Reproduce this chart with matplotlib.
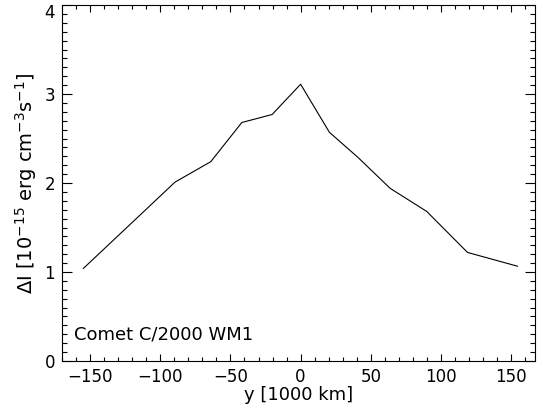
import numpy as np
import matplotlib
matplotlib.use('Agg')
import matplotlib.pyplot as plt
import matplotlib.transforms as mtransforms
from matplotlib.ticker import MultipleLocator

# profile across the comet
y_pos = [-154.8, -89.5, -64.0, -41.9, -20.3, 0.0, 20.5, 40.7, 63.8, 89.9, 118.9, 154.5]
delta_i = [1.04, 2.01, 2.24, 2.68, 2.77, 3.11, 2.57, 2.29, 1.94, 1.68, 1.22, 1.065]

plt.rcParams['font.family'] = ['DejaVu Sans']
plt.rcParams['font.size'] = 12

fig = plt.figure(figsize=(5.37, 4.2), dpi=100)
ax = fig.add_axes([0.1155, 0.1405, 0.8808, 0.8475])

ax.plot(y_pos, delta_i, color='black', linewidth=0.8)

ax.set_xlim(-170, 167)
ax.set_ylim(0, 4)
ax.xaxis.set_major_locator(MultipleLocator(50))
ax.xaxis.set_minor_locator(MultipleLocator(10))
ax.yaxis.set_major_locator(MultipleLocator(1))
ax.yaxis.set_minor_locator(MultipleLocator(0.1))

ax.tick_params(axis='both', which='both', direction='in', top=True, right=True,
               width=0.8, labelsize=12)
ax.tick_params(axis='x', which='major', length=5, pad=5)
ax.tick_params(axis='x', which='minor', length=2.8)
ax.tick_params(axis='y', which='major', length=7, pad=5)
ax.tick_params(axis='y', which='minor', length=3.5)
for s in ax.spines.values():
    s.set_linewidth(0.8)

ax.set_xlabel('y [1000 km]', fontsize=13, labelpad=0)
ax.set_ylabel(r'$\Delta$I [10$^{-15}$ erg cm$^{-3}$s$^{-1}$]', fontsize=14, labelpad=4)

ax.text(0.025, 0.05, 'Comet C/2000 WM1', transform=ax.transAxes, fontsize=13,
        ha='left', va='bottom')

# nudge the top "4" down so it stays inside the figure
fig.canvas.draw()
top_label = ax.yaxis.get_majorticklabels()[-1]
for lab in ax.yaxis.get_majorticklabels():
    if lab.get_text() == '4':
        top_label = lab
top_label.set_transform(top_label.get_transform() +
                        mtransforms.ScaledTranslation(0, -4 / 72, fig.dpi_scale_trans))

fig.savefig('out.png', dpi=100)
